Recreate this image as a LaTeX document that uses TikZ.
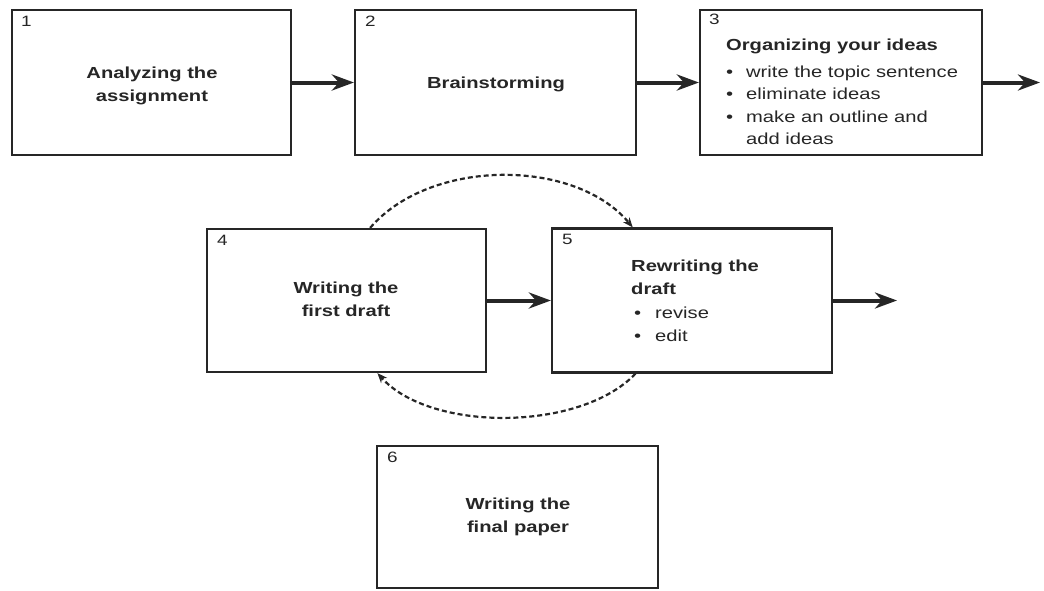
\documentclass[tikz,border=0pt]{standalone}
\usepackage{fontspec}
\setmainfont[FakeStretch=1.26]{Liberation Sans}
\usetikzlibrary{arrows.meta,calc}
\definecolor{ink}{HTML}{262626}
\begin{document}
\begin{tikzpicture}[x=1pt,y=-1pt,
  box/.style={draw=ink, line width=2.2pt, inner sep=0pt, fill=white},
  num/.style={anchor=north west, inner sep=0pt, text=ink, font=\fontsize{15}{16}\selectfont},
  title/.style={inner sep=0pt, text=ink, align=center, font=\fontsize{16}{23}\selectfont\bfseries},
  listtext/.style={inner sep=0pt, text=ink, align=left, anchor=north west, font=\fontsize{16}{22.5}\selectfont},
  mainarrow/.style={draw=ink, line width=4pt, -{Stealth[length=22pt,width=16pt,inset=7pt]}},
  dashedarc/.style={draw=ink, line width=2.2pt, dash pattern=on 5pt off 3pt, -{Stealth[length=10pt,width=8pt]}}
]
\useasboundingbox (0,0) rectangle (1044,590);
% boxes
\node[box, minimum width=279pt, minimum height=145pt] (b1) at (151.5,82.5) {};
\node[box, minimum width=281pt, minimum height=145pt] (b2) at (495.5,82.5) {};
\node[box, minimum width=282pt, minimum height=145pt] (b3) at (841,82.5) {};
\node[box, minimum width=279pt, minimum height=143pt] (b4) at (346.5,300.5) {};
\node[box, minimum width=280pt, minimum height=144pt] (b5) at (692,300.5) {};
\node[box, minimum width=281pt, minimum height=142pt] (b6) at (517.5,517) {};
% numbers
\node[num] (n1) at ($(b1.north west)+(10,7)$) {1};
\node[num] (n2) at ($(b2.north west)+(11,7)$) {2};
\node[num] (n3) at ($(b3.north west)+(10,5)$) {3};
\node[num] (n4) at ($(b4.north west)+(11,7)$) {4};
\node[num] (n5) at ($(b5.north west)+(11,7)$) {5};
\node[num] (n6) at ($(b6.north west)+(11,7)$) {6};
% texts
\node[title] (t1) at (152,86) {Analyzing the\\assignment};
\node[title] (t2) at (496,84) {Brainstorming};
\node[listtext] (t3) at (726,39) {\textbf{Organizing your ideas}\\[4pt]
  \makebox[20pt][l]{\textbullet}write the topic sentence\\
  \makebox[20pt][l]{\textbullet}eliminate ideas\\
  \makebox[20pt][l]{\textbullet}make an outline and\\
  \hspace*{20pt}add ideas};
\node[title] (t4) at (346,299) {Writing the\\first draft};
\node[listtext] (t5) at (631,260) {\textbf{Rewriting the}\\
  \textbf{draft}\\[2pt]
  \hspace*{3pt}\makebox[21pt][l]{\textbullet}revise\\
  \hspace*{3pt}\makebox[21pt][l]{\textbullet}edit};
\node[title] (t6) at (518,517) {Writing the\\final paper};
% main arrows
\coordinate (o3) at (1040,82.5);
\coordinate (o5) at (897,300.5);
\draw[mainarrow] (b1.east) -- (b2.west);
\draw[mainarrow] (b2.east) -- (b3.west);
\draw[mainarrow] (b3.east) -- (o3);
\draw[mainarrow] (b4.east) -- (b5.west);
\draw[mainarrow] (b5.east) -- (o5);
% dashed loops
\coordinate (a4t) at ($(b4.north west)!0.584!(b4.north east)$);
\coordinate (a5t) at ($(b5.north west)!0.29!(b5.north east)$);
\coordinate (a5b) at ($(b5.south west)!0.30!(b5.south east)$);
\coordinate (a4b) at ($(b4.south west)!0.61!(b4.south east)$);
\draw[dashedarc] (a4t) .. controls (430,158) and (575,158) .. (a5t);
\draw[dashedarc] (a5b) .. controls (580,432) and (430,432) .. (a4b);
\end{tikzpicture}
\end{document}
